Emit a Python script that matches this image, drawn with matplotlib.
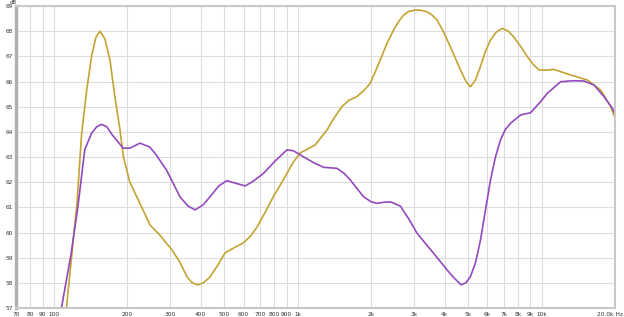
import matplotlib
matplotlib.use("Agg")
import matplotlib.pyplot as plt
from matplotlib.ticker import FixedLocator, NullLocator
from matplotlib.transforms import ScaledTranslation

# Gold curve (Hz, dB)
gold_freq = [112.7, 118.5, 124.6, 130, 136.2, 142.8, 148.8, 154.5, 162, 170, 178, 186.7, 193,
             205, 211, 232, 248, 272, 305, 330, 352, 370, 390, 410, 437, 470, 504, 550, 597,
             640, 682, 740, 793, 850, 906, 960, 1024, 1180, 1318, 1400, 1518, 1620, 1750, 1870,
             1985, 2181, 2320, 2475, 2600, 2720, 2850, 3038, 3200, 3390, 3550, 3729, 3950, 4227,
             4650, 4900, 5110, 5350, 5617, 5890, 6175, 6500, 6896, 7300, 7674, 8200, 8738, 9200,
             9750, 10500, 11230, 13150, 15410, 17470, 19200, 20000]
gold_db = [57.0, 59.1, 61.2, 63.9, 65.6, 67.0, 67.75, 68.0, 67.7, 66.85, 65.4, 64.1, 63.0,
           62.0, 61.75, 60.9, 60.3, 59.9, 59.31, 58.8, 58.23, 58.0, 57.92, 58.0, 58.23, 58.7,
           59.19, 59.4, 59.58, 59.85, 60.22, 60.85, 61.41, 61.9, 62.37, 62.8, 63.16, 63.48,
           64.07, 64.5, 65.0, 65.25, 65.4, 65.65, 65.93, 66.85, 67.5, 68.05, 68.4, 68.64,
           68.78, 68.84, 68.83, 68.77, 68.65, 68.44, 68.0, 67.38, 66.46, 66.0, 65.79, 66.05,
           66.6, 67.2, 67.65, 67.95, 68.11, 68.0, 67.78, 67.4, 66.99, 66.7, 66.46, 66.45,
           66.48, 66.26, 66.06, 65.66, 65.0, 64.55]

# Purple curve (Hz, dB)
purple_freq = [107.5, 117.5, 125.5, 134, 143, 150, 157, 165, 173, 192.6, 205, 225.6, 247, 260,
               290, 329, 355, 380, 410, 437, 475, 512, 560, 609, 660, 724, 810, 903, 960, 1056,
               1150, 1276, 1449, 1550, 1643, 1750, 1863, 2000, 2114, 2250, 2398, 2636, 2850,
               3087, 3350, 3613, 4100, 4370, 4679, 4890, 5110, 5360, 5617, 5890, 6175, 6470,
               6786, 7110, 7459, 8200, 9014, 9909, 10555, 11970, 13400, 14920, 16400, 18030,
               19500, 20000]
purple_db = [57.0, 59.1, 61.0, 63.3, 63.95, 64.2, 64.3, 64.2, 63.9, 63.35, 63.35, 63.55, 63.4,
             63.15, 62.48, 61.42, 61.05, 60.9, 61.1, 61.42, 61.85, 62.06, 61.95, 61.85, 62.05,
             62.35, 62.85, 63.28, 63.25, 63.01, 62.8, 62.59, 62.55, 62.35, 62.09, 61.75, 61.42,
             61.22, 61.16, 61.2, 61.22, 61.05, 60.55, 59.97, 59.55, 59.17, 58.51, 58.2, 57.92,
             58.0, 58.25, 58.8, 59.7, 60.9, 62.09, 63.0, 63.68, 64.1, 64.34, 64.67, 64.76, 65.2,
             65.53, 65.99, 66.03, 66.02, 65.86, 65.4, 64.94, 64.7]

x_ticks = [70, 80, 90, 100, 200, 300, 400, 500, 600, 700, 800, 900, 1000,
           2000, 3000, 4000, 5000, 6000, 7000, 8000, 9000, 10000, 20000]
x_labels = ["70", "80", "90", "100", "200", "300", "400", "500", "600", "700", "800", "900", "1k",
            "2k", "3k", "4k", "5k", "6k", "7k", "8k", "9k", "10k", "20.0k Hz"]
y_ticks = list(range(57, 70))
y_labels = [str(v) for v in y_ticks]

W, H = 624, 317
fig = plt.figure(figsize=(W / 100, H / 100), dpi=100)
ax = fig.add_axes([16 / W, 9 / H, (615 - 16) / W, (308 - 6) / H])

ax.plot(gold_freq, gold_db, color="#c4a431", lw=1.2, solid_joinstyle="round",
        solid_capstyle="round")
ax.plot(purple_freq, purple_db, color="#9448bf", lw=1.2, solid_joinstyle="round",
        solid_capstyle="round")

ax.set_xscale("log")
ax.set_xlim(70, 20000)
ax.set_ylim(57, 69)
ax.xaxis.set_major_locator(FixedLocator(x_ticks))
ax.xaxis.set_minor_locator(NullLocator())
ax.set_xticks(x_ticks)
ax.set_xticklabels(x_labels)
ax.set_yticks(y_ticks)
ax.set_yticklabels(y_labels)
ax.tick_params(axis="both", length=0, labelsize=4.2, colors="#333333", pad=2)
ax.tick_params(axis="x", pad=3)

last = ax.get_xticklabels()[-1]
last.set_horizontalalignment("right")
last.set_transform(last.get_transform() + ScaledTranslation(8 / 100, 0, fig.dpi_scale_trans))

ax.grid(True, color="#dddddd", lw=0.8)
ax.set_axisbelow(True)
for side in ["top", "right", "bottom"]:
    ax.spines[side].set_color("#c8c8c8")
    ax.spines[side].set_linewidth(1.5)
ax.spines["left"].set_color("#b0b0b0")
ax.spines["left"].set_linewidth(2.5)

fig.text(10 / W, 1 - 2 / H, "dB", fontsize=4, color="#333333", ha="left", va="center")

fig.savefig("out.png", dpi=100, facecolor="white")
